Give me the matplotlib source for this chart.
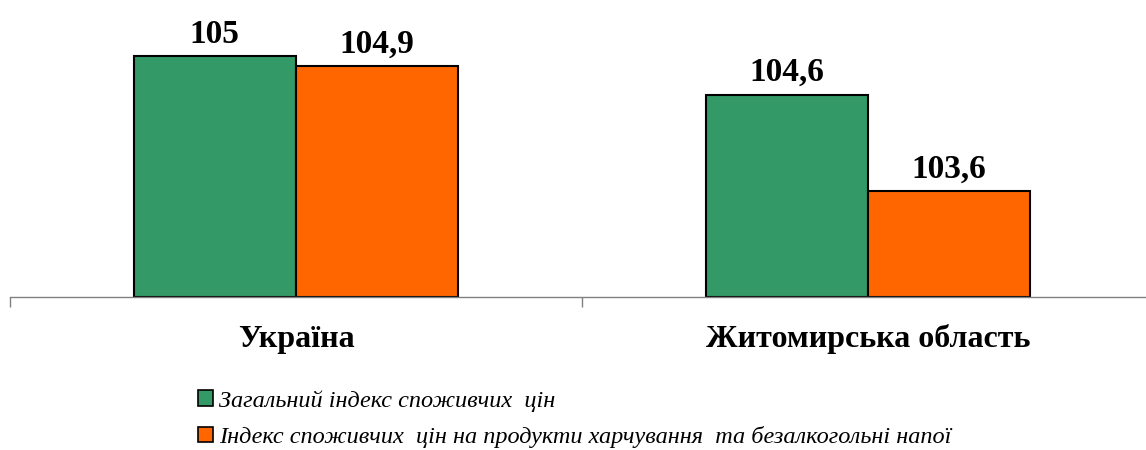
import numpy as np
import matplotlib
matplotlib.use("Agg")
import matplotlib.pyplot as plt
from matplotlib.patches import Patch

categories = ["Україна", "Житомирська область"]
series_names = ["Загальний індекс споживчих  цін",
                "Індекс споживчих  цін на продукти харчування  та безалкогольні напої"]
general_cpi = [105.0, 104.6]
food_cpi = [104.9, 103.6]
value_labels = [["105", "104,6"], ["104,9", "103,6"]]
colors = ["#339966", "#FF6600"]

plt.rcParams["font.family"] = ["Liberation Serif", "DejaVu Serif"]

fig = plt.figure(figsize=(11.46, 4.5), dpi=100)
ax = fig.add_axes([10 / 1146, 153 / 450, 1144 / 1146, 289 / 450])

x = np.arange(len(categories))
w = 0.284
base = 102.5
for i, (vals, labs) in enumerate(zip([general_cpi, food_cpi], value_labels)):
    pos = x + (i - 0.5) * w
    heights = [v - base for v in vals]
    ax.bar(pos, heights, width=w, bottom=base, color=colors[i],
           edgecolor="black", linewidth=1.5, zorder=2)
    for px, v, lab in zip(pos, vals, labs):
        ax.text(px, v + 0.14, lab, ha="center", va="baseline",
                fontsize=24, fontweight="bold")

ax.set_xlim(-0.5, 1.5)
ax.set_ylim(base, 105.5)
for s in ["top", "right", "left"]:
    ax.spines[s].set_visible(False)
ax.spines["bottom"].set_color("#808080")
ax.spines["bottom"].set_linewidth(1.0)
ax.set_yticks([])
ax.set_xticks([-0.5, 0.5, 1.5])
ax.set_xticklabels([])
ax.tick_params(axis="x", length=7, color="#808080", width=1.0)
for xi, cat in zip(x, categories):
    ax.text(xi, base - 0.44, cat, ha="center", va="center",
            fontsize=23, fontweight="bold")

handles = [Patch(facecolor=c, edgecolor="black", linewidth=1.2) for c in colors]
fig.legend(handles, series_names, loc="upper left",
           bbox_to_anchor=(198 / 1146, 1 - 390 / 450), frameon=False,
           prop={"style": "italic", "size": 17.5}, handlelength=0.6,
           handleheight=0.6, handletextpad=0.25, labelspacing=0.6,
           borderaxespad=0, borderpad=0)

fig.savefig("out.png", dpi=100)
